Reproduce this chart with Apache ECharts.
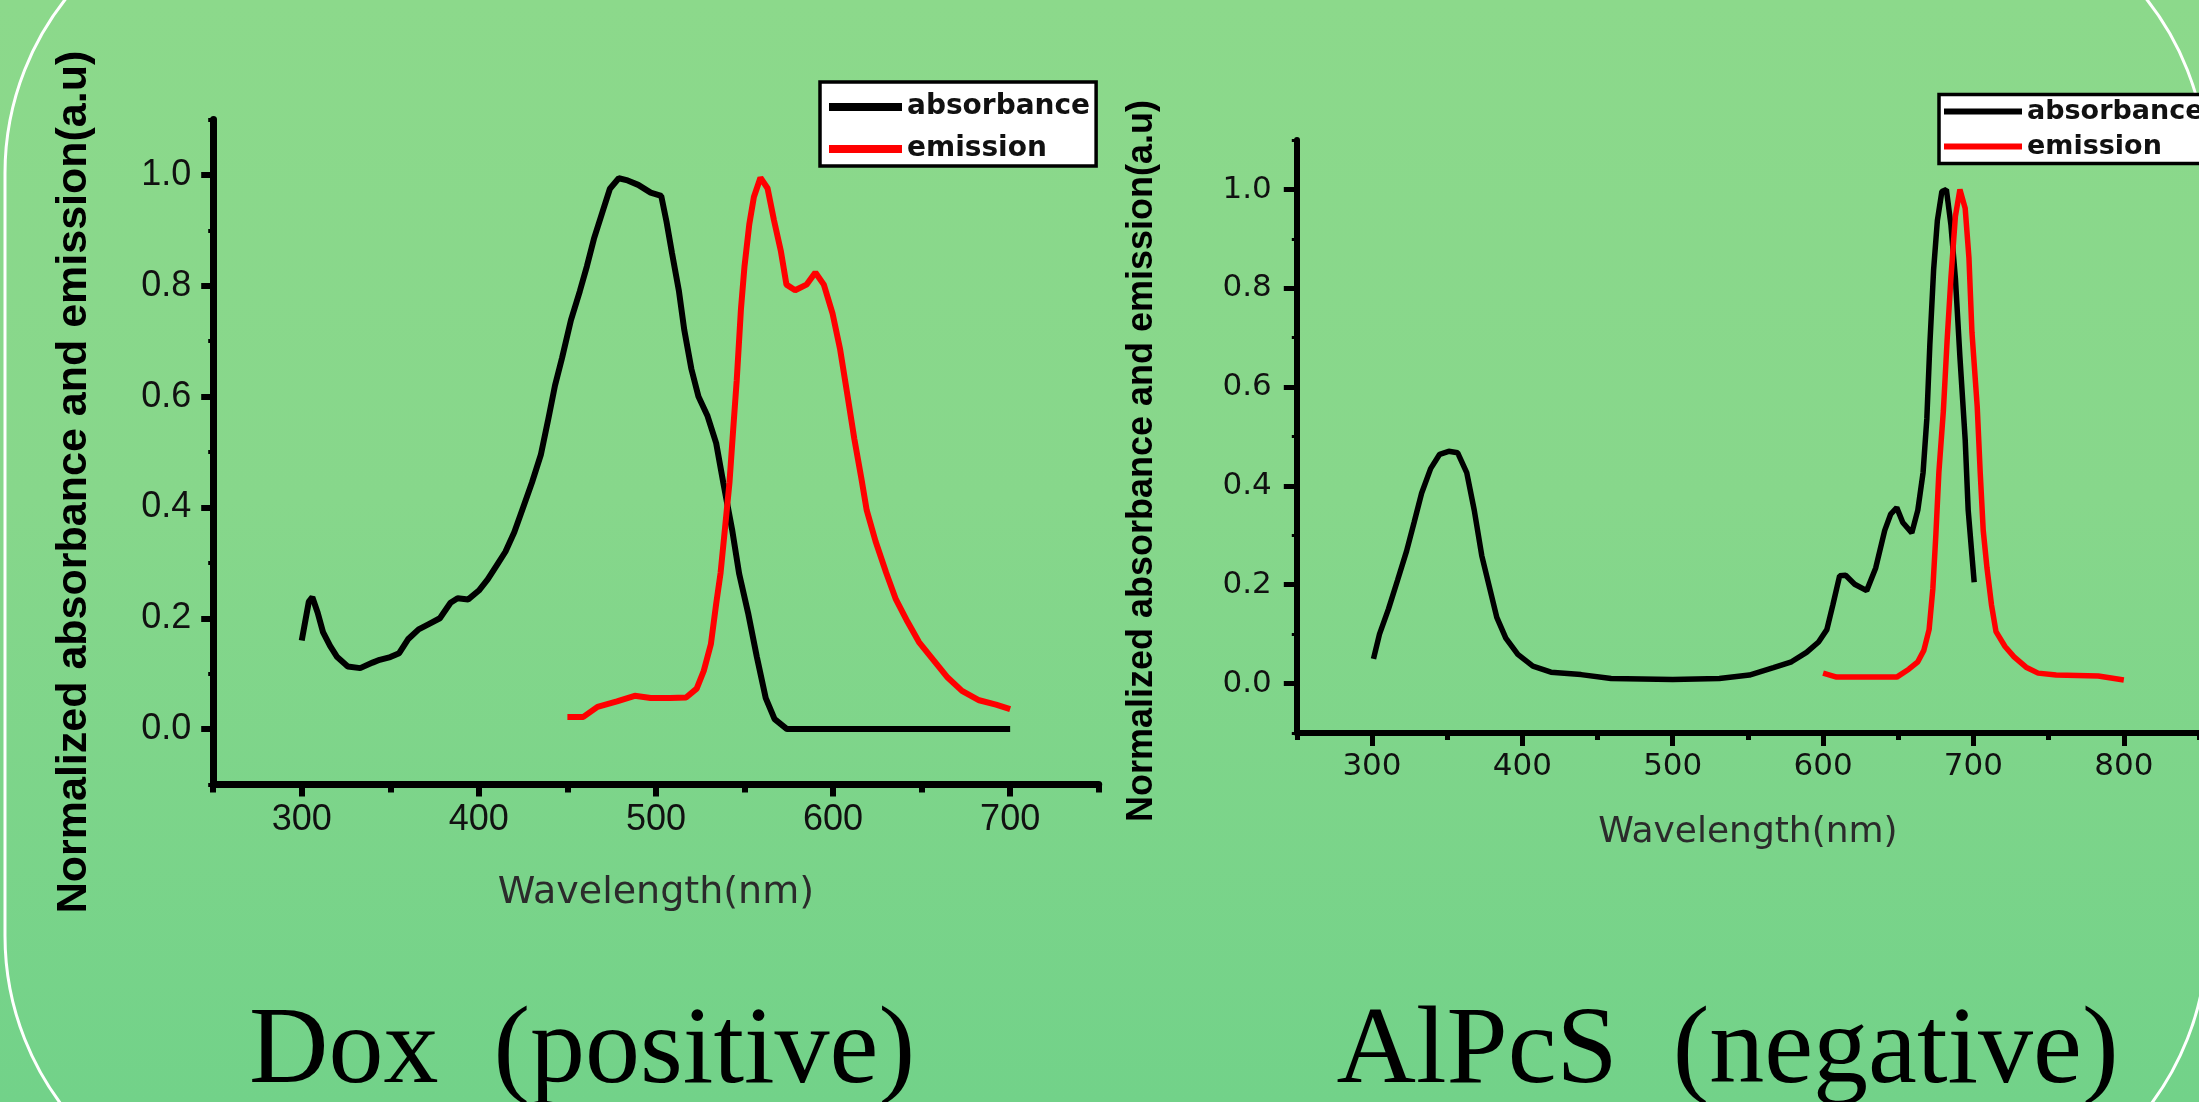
<!DOCTYPE html>
<html>
<head>
<meta charset="utf-8">
<title>Dox / AlPcS absorbance and emission</title>
<script src="https://cdn.jsdelivr.net/npm/echarts@6/dist/echarts.min.js"></script>
<style>
  html, body { margin: 0; padding: 0; }
  #chart { width: 2199px; height: 1102px; }
</style>
</head>
<body>
<div id="chart"></div>
<script>
// Dox (positive)
const doxAbsWl = [300, 304, 306, 309, 312, 316, 320, 326, 333, 340, 344, 350, 355, 360, 366, 372, 378, 384, 388, 394,
  400, 405, 410, 415, 420, 425, 430, 435, 439, 443, 447, 452, 457, 461, 465, 470, 474, 479, 484, 490,
  497, 503, 506, 509, 513, 516, 520, 524, 529, 534, 538, 543, 547, 552, 557, 562, 567, 574, 600, 650, 700]
const doxAbs = [0.16, 0.23, 0.238, 0.21, 0.175, 0.15, 0.13, 0.113, 0.11, 0.12, 0.125, 0.13, 0.137, 0.162, 0.18, 0.19, 0.2, 0.228, 0.236, 0.234,
  0.25, 0.27, 0.295, 0.32, 0.355, 0.4, 0.445, 0.495, 0.556, 0.62, 0.67, 0.738, 0.79, 0.835, 0.885, 0.935, 0.975, 0.994, 0.99, 0.982,
  0.968, 0.962, 0.915, 0.86, 0.79, 0.72, 0.65, 0.6, 0.566, 0.516, 0.445, 0.36, 0.28, 0.21, 0.13, 0.056, 0.018, 0, 0, 0, 0]

const doxEmWl = [450, 459, 467, 478, 488, 497, 508, 517, 523, 527, 531, 534, 536.5, 539, 541.5, 543.6, 545.6, 548, 550, 552.7,
  555.3, 559, 563, 566.6, 570.5, 573.7, 578.6, 585, 590, 594.8, 599.7, 604, 608, 612, 616, 619, 624, 630, 635.5, 642,
  648.5, 656.6, 664.7, 672.8, 682.5, 692, 700]
const doxEm = [0.022, 0.022, 0.04, 0.05, 0.06, 0.056, 0.056, 0.057, 0.073, 0.105, 0.153, 0.226, 0.282, 0.363, 0.444, 0.54, 0.629, 0.758, 0.835, 0.911,
  0.96, 0.995, 0.976, 0.919, 0.863, 0.802, 0.792, 0.802, 0.824, 0.802, 0.75, 0.685, 0.605, 0.524, 0.452, 0.395, 0.339, 0.282, 0.234, 0.194,
  0.157, 0.125, 0.093, 0.069, 0.052, 0.044, 0.036]

// AlPcS (negative)
const alAbsWl = [301, 305, 311, 317, 323, 328, 333, 339, 345, 351, 357, 363, 368, 373, 379, 383, 389, 397, 407, 419,
  439, 459, 500, 531, 551, 567, 579, 589, 597, 602.5, 606.5, 611, 615, 621, 629, 635, 641, 645, 649, 653,
  659, 663, 666.5, 669, 671, 673.5, 676, 679, 682, 685, 688, 691, 694.5, 696.5, 699, 700.5]
const alAbs = [0.05, 0.1, 0.151, 0.209, 0.268, 0.326, 0.385, 0.435, 0.464, 0.47, 0.467, 0.427, 0.351, 0.259, 0.184, 0.134, 0.092, 0.059, 0.035, 0.023,
  0.018, 0.01, 0.008, 0.01, 0.017, 0.032, 0.044, 0.063, 0.084, 0.109, 0.159, 0.218, 0.219, 0.201, 0.188, 0.234, 0.31, 0.343, 0.356, 0.326,
  0.305, 0.351, 0.427, 0.536, 0.686, 0.837, 0.937, 0.996, 1.0, 0.929, 0.82, 0.661, 0.494, 0.351, 0.259, 0.205]

const alEmWl = [600, 609, 649, 657, 663, 667, 670.5, 673, 675, 677, 680, 682.5, 685, 688, 691, 694.5, 697, 699, 702.5, 704.5,
  706.5, 709, 712, 715, 721, 727, 735, 743, 755, 783, 800]
const alEm = [0.021, 0.013, 0.013, 0.029, 0.044, 0.067, 0.109, 0.192, 0.301, 0.427, 0.552, 0.695, 0.82, 0.946, 1.0, 0.962, 0.862, 0.711, 0.561, 0.427,
  0.31, 0.234, 0.159, 0.105, 0.075, 0.054, 0.033, 0.021, 0.017, 0.015, 0.007]

const doxXTicks = [300, 400, 500, 600, 700]
const alXTicks = [300, 400, 500, 600, 700, 800]
const yTicks = [0, 0.2, 0.4, 0.6, 0.8, 1.0]

const zip = (xs, ys) => xs.map((x, i) => [x, ys[i]])

const chart = echarts.init(document.getElementById('chart'))

function mainX(grid, min, max, ticks, s) {
  return {
    type: 'value', gridIndex: grid, min, max, position: 'bottom',
    axisLine: { onZero: false, lineStyle: { color: '#000', width: s.axis } },
    axisTick: { customValues: ticks, length: s.tick, lineStyle: { color: '#000', width: s.axis - 1 } },
    axisLabel: { customValues: ticks, margin: s.xMargin, fontFamily: s.labelFont, fontSize: s.labelSize, color: '#111' },
    splitLine: { show: false },
    name: 'Wavelength(nm)', nameLocation: 'middle', nameGap: s.xNameGap,
    nameTextStyle: { fontFamily: 'DejaVu Sans', fontSize: s.xNameSize, color: '#2b2b2b' },
  }
}
function minorX(grid, min, max, s) {
  return {
    type: 'value', gridIndex: grid, min, max, interval: 50, position: 'bottom',
    axisLine: { show: false, onZero: false },
    axisTick: { length: s.minorX, lineStyle: { color: '#000', width: s.axis - 1 } },
    axisLabel: { show: false }, splitLine: { show: false },
  }
}
function mainY(grid, s) {
  return {
    type: 'value', gridIndex: grid, min: -0.1, max: 1.1, position: 'left',
    axisLine: { onZero: false, lineStyle: { color: '#000', width: s.axis } },
    axisTick: { customValues: yTicks, length: s.tick, lineStyle: { color: '#000', width: s.axis - 1 } },
    axisLabel: { customValues: yTicks, formatter: v => v.toFixed(1), margin: s.yMargin, fontFamily: s.labelFont, fontSize: s.labelSize, color: '#111' },
    splitLine: { show: false },
    name: 'Normalized absorbance and emission(a.u)', nameLocation: 'middle', nameRotate: 90, nameGap: s.yNameGap,
    nameTextStyle: { fontFamily: 'Liberation Sans', fontWeight: 'bold', fontSize: s.yNameSize, color: '#000', padding: [0, s.yNameShift, 0, 0] },
  }
}
function minorY(grid, s) {
  return {
    type: 'value', gridIndex: grid, min: -0.1, max: 1.1, interval: 0.1, position: 'left',
    axisLine: { show: false, onZero: false },
    axisTick: { length: s.minorY, lineStyle: { color: '#000', width: s.axis - 3 } },
    axisLabel: { show: false }, splitLine: { show: false },
  }
}

const left = { axis: 7, tick: 12, minorX: 8, minorY: 5, xMargin: 18, yMargin: 22, labelFont: 'Liberation Sans', labelSize: 36,
  xNameGap: 90, xNameSize: 38, yNameGap: 118, yNameSize: 43, yNameShift: 60 }
const right = { axis: 6, tick: 13, minorX: 7, minorY: 5, xMargin: 19, yMargin: 25, labelFont: 'DejaVu Sans', labelSize: 31,
  xNameGap: 82, xNameSize: 36, yNameGap: 137, yNameSize: 36, yNameShift: 49 }

const legendText = size => ({ fontFamily: 'DejaVu Sans', fontWeight: 'bold', fontSize: size, color: '#111' })

chart.setOption({
  animation: false,
  backgroundColor: new echarts.graphic.LinearGradient(0, 0, 0, 1, [
    { offset: 0, color: '#8cd98b' },
    { offset: 0.45, color: '#87d78b' },
    { offset: 1, color: '#72d289' },
  ]),
  grid: [
    { left: 213.2, top: 119.5, width: 885.5, height: 665, containLabel: false },
    { left: 1296.8, top: 140.1, width: 908.4, height: 592.8, containLabel: false },
  ],
  xAxis: [
    mainX(0, 250, 750, doxXTicks, left),
    minorX(0, 250, 750, left),
    mainX(1, 250, 850, alXTicks, right),
    minorX(1, 250, 850, right),
  ],
  yAxis: [mainY(0, left), minorY(0, left), mainY(1, right), minorY(1, right)],
  legend: [
    {
      data: ['absorbance', 'emission'], orient: 'vertical', left: 820, top: 82,
      icon: 'rect', itemWidth: 73, itemHeight: 8, itemGap: 12, padding: [10, 6, 2, 9],
      backgroundColor: '#fff', borderColor: '#000', borderWidth: 3.5, selectedMode: false,
      textStyle: { ...legendText(28), lineHeight: 30 },
    },
    {
      data: ['absorbance', 'emission'], orient: 'vertical', left: 1939, top: 94.5,
      icon: 'rect', itemWidth: 78, itemHeight: 6, itemGap: 7, padding: [3, 10, 3, 5],
      backgroundColor: '#fff', borderColor: '#000', borderWidth: 3.5, selectedMode: false,
      textStyle: { ...legendText(27), lineHeight: 28 },
    },
  ],
  series: [
    { name: 'absorbance', type: 'line', xAxisIndex: 0, yAxisIndex: 0, data: zip(doxAbsWl, doxAbs), showSymbol: false, color: '#000', lineStyle: { width: 6 } },
    { name: 'emission', type: 'line', xAxisIndex: 0, yAxisIndex: 0, data: zip(doxEmWl, doxEm), showSymbol: false, color: '#ff0000', lineStyle: { width: 6 } },
    { name: 'absorbance', type: 'line', xAxisIndex: 2, yAxisIndex: 2, data: zip(alAbsWl, alAbs), showSymbol: false, color: '#000', lineStyle: { width: 5.5 } },
    { name: 'emission', type: 'line', xAxisIndex: 2, yAxisIndex: 2, data: zip(alEmWl, alEm), showSymbol: false, color: '#ff0000', lineStyle: { width: 5.5 } },
  ],
  graphic: [
    {
      type: 'rect', silent: true, z: -10,
      shape: { x: 5, y: -107, width: 2202, height: 1323, r: 280 },
      style: { fill: 'none', stroke: '#fff', lineWidth: 3 },
    },
    {
      type: 'text', x: 582, y: 1053, silent: true,
      style: { text: 'Dox  (positive)', font: '110px "Liberation Serif"', fill: '#000', align: 'center', verticalAlign: 'middle' },
    },
    {
      type: 'text', x: 1727.5, y: 1053, silent: true,
      style: { text: 'AlPcS  (negative)', font: '110px "Liberation Serif"', fill: '#000', align: 'center', verticalAlign: 'middle' },
    },
  ],
})
</script>
</body>
</html>
